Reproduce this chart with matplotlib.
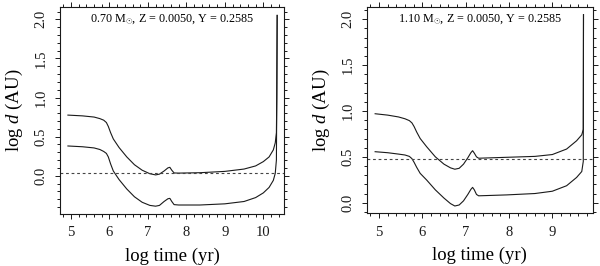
import matplotlib
matplotlib.use("Agg")
import matplotlib.pyplot as plt
from matplotlib.ticker import MultipleLocator

plt.rcParams['font.family'] = ['Liberation Serif', 'DejaVu Serif']
plt.rcParams['mathtext.fontset'] = 'custom'
plt.rcParams['mathtext.rm'] = 'Liberation Serif'
plt.rcParams['mathtext.it'] = 'Liberation Serif:italic'

# ---- data: left panel (0.70 Msun) ----
left_t = [4.92, 5.3, 5.6, 5.75, 5.85, 5.92, 5.97, 6.03, 6.1, 6.25, 6.45, 6.65, 6.85, 7.05,
          7.2, 7.3, 7.42, 7.52, 7.57, 7.62, 7.68, 7.8, 8.35, 9.0, 9.5, 9.8, 10.0, 10.15,
          10.26, 10.31, 10.34, 10.35, 10.36]
left_upper = [0.775, 0.765, 0.75, 0.73, 0.71, 0.68, 0.63, 0.55, 0.47, 0.36, 0.24, 0.14,
              0.07, 0.025, 0.01, 0.02, 0.06, 0.10, 0.107, 0.07, 0.035, 0.033, 0.038, 0.055,
              0.085, 0.125, 0.18, 0.24, 0.33, 0.42, 0.55, 1.0, 2.05]
left_lower = [0.38, 0.37, 0.355, 0.335, 0.31, 0.285, 0.24, 0.15, 0.06, -0.05, -0.17, -0.27,
              -0.34, -0.38, -0.39, -0.38, -0.33, -0.295, -0.29, -0.33, -0.37, -0.375,
              -0.375, -0.36, -0.33, -0.28, -0.22, -0.15, -0.06, 0.03, 0.2, 1.0, 2.05]
left_hz = 0.03
left_title = r'0.70 M$_{\odot}$, Z = 0.0050, Y = 0.2585'

# ---- data: right panel (1.10 Msun) ----
right_t = [4.91, 5.2, 5.45, 5.6, 5.7, 5.76, 5.81, 5.87, 5.95, 6.1, 6.3, 6.5, 6.65, 6.75,
           6.85, 6.95, 7.05, 7.12, 7.16, 7.2, 7.25, 7.3, 7.95, 8.6, 9.0, 9.33, 9.56, 9.68,
           9.715, 9.72]
right_upper = [0.97, 0.955, 0.935, 0.915, 0.895, 0.87, 0.83, 0.77, 0.70, 0.61, 0.50, 0.42,
               0.38, 0.365, 0.375, 0.42, 0.49, 0.545, 0.567, 0.54, 0.50, 0.485, 0.495,
               0.505, 0.525, 0.585, 0.675, 0.74, 0.80, 2.05]
right_lower = [0.556, 0.545, 0.53, 0.52, 0.505, 0.48, 0.44, 0.385, 0.32, 0.247, 0.14, 0.05,
               -0.01, -0.036, -0.025, 0.02, 0.09, 0.145, 0.167, 0.14, 0.09, 0.075, 0.085,
               0.10, 0.125, 0.185, 0.275, 0.34, 0.45, 2.05]
right_hz = 0.476
right_title = r'1.10 M$_{\odot}$, Z = 0.0050, Y = 0.2585'

fig = plt.figure(figsize=(6.0, 2.66), dpi=100)
axL = fig.add_axes([0.100, 0.1955, 0.3733, 0.778])
axR = fig.add_axes([0.6117, 0.198, 0.3761, 0.7757])

panels = [
    (axL, left_t, left_upper, left_lower, left_hz, left_title, (4.714, 10.537), (-0.49, 2.157)),
    (axR, right_t, right_upper, right_lower, right_hz, right_title, (4.723, 9.932), (-0.116, 2.134)),
]

for ax, t, up, lo, hz, title, xl, yl in panels:
    ax.plot(t, up, color='#1a1a1a', lw=0.8)
    ax.plot(t, lo, color='#1a1a1a', lw=0.8)
    ax.axhline(hz, color='#444444', lw=0.8, ls=(0, (2.5, 2.5)))
    ax.set_xlim(*xl)
    ax.set_ylim(*yl)
    ax.xaxis.set_major_locator(MultipleLocator(1))
    ax.xaxis.set_minor_locator(MultipleLocator(0.2))
    ax.yaxis.set_major_locator(MultipleLocator(0.5))
    ax.yaxis.set_minor_locator(MultipleLocator(0.1))
    ax.yaxis.set_major_formatter(matplotlib.ticker.FormatStrFormatter('%.1f'))
    ax.tick_params(which='both', direction='out', top=True, right=True, width=0.7,
                   labelsize=10.5, colors='#1a1a1a')
    ax.tick_params(which='major', length=3.5)
    ax.tick_params(axis='x', which='major', pad=5.5)
    ax.tick_params(axis='y', which='major', pad=5.5)
    ax.tick_params(which='minor', length=2)
    for lab in ax.get_yticklabels():
        lab.set_rotation(90)
        lab.set_va('center')
    for s in ax.spines.values():
        s.set_linewidth(0.8)
        s.set_color('#1a1a1a')
    ax.set_xlabel('log time (yr)', fontsize=13.5, labelpad=6)
    ax.set_ylabel(r'log $d$ (AU)', fontsize=13.5, labelpad=6.5)
    ax.text(0.5, 0.975, title, transform=ax.transAxes, ha='center', va='top', fontsize=8.7)

fig.savefig('out.png', dpi=100)
